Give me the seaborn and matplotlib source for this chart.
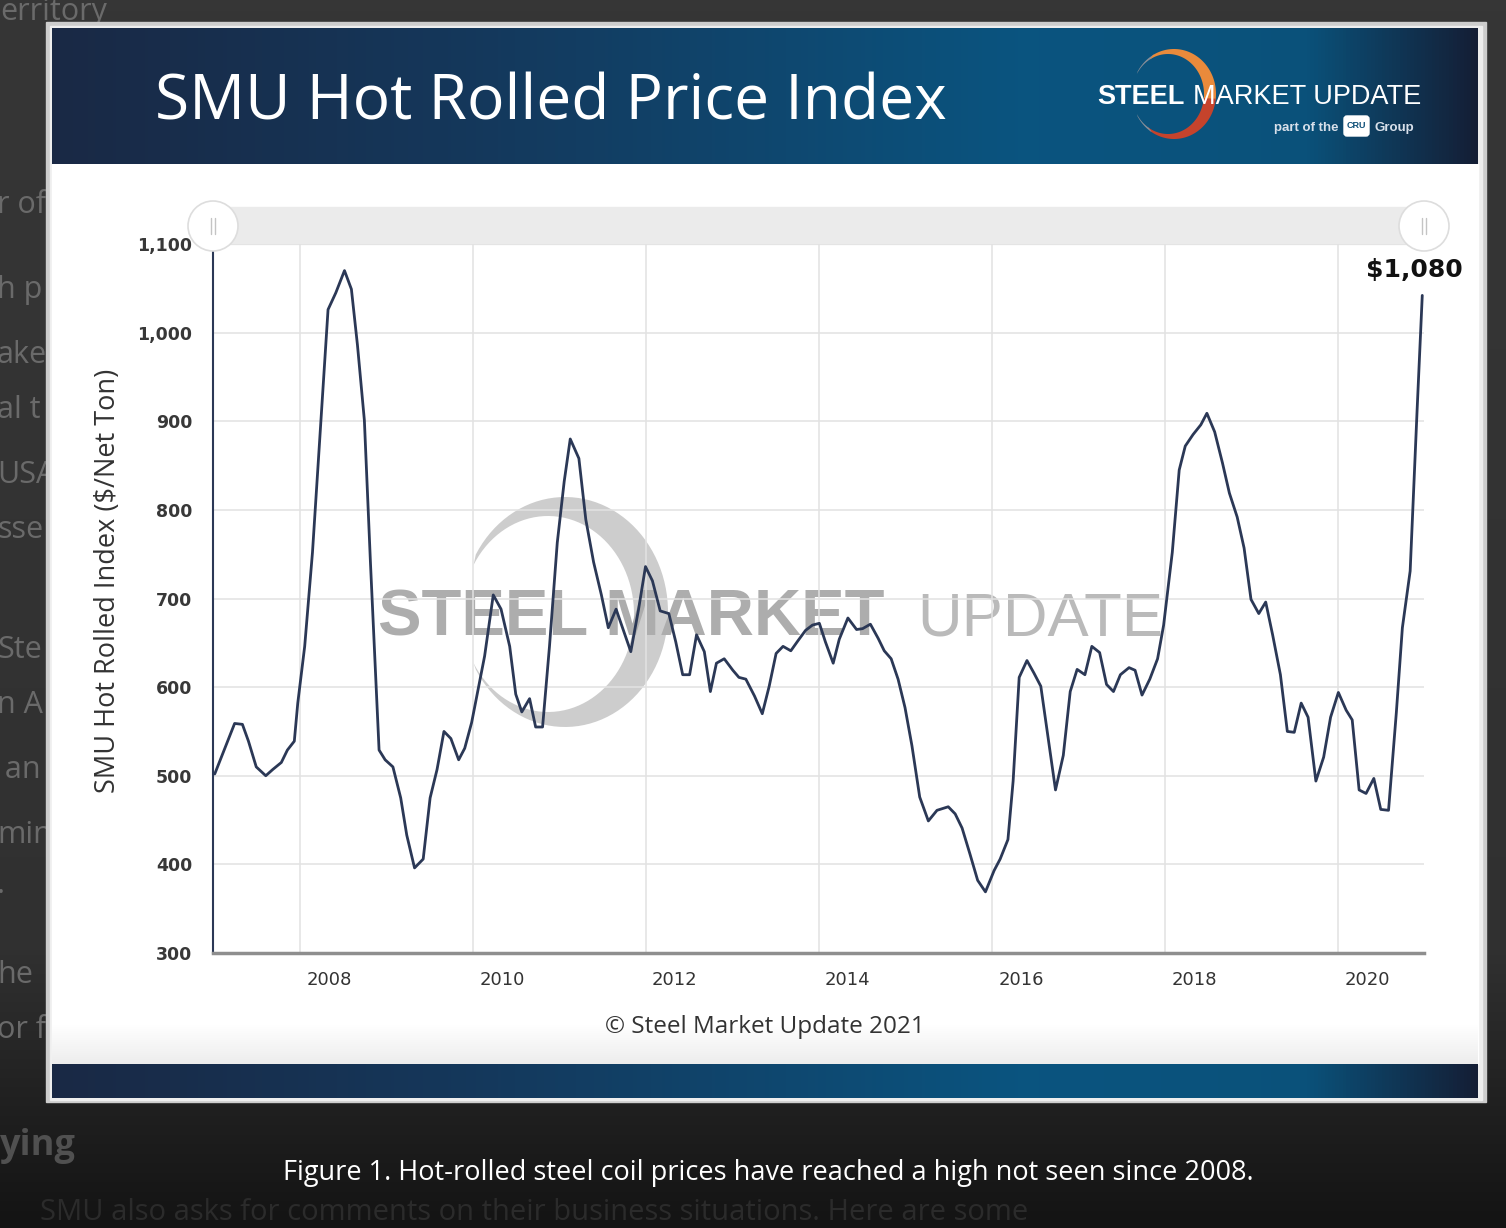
import numpy as np
import pandas as pd
import seaborn as sns
import matplotlib.pyplot as plt
from matplotlib.patches import Rectangle, Circle, Polygon, FancyBboxPatch

# SMU hot rolled index (decimal year, $/net ton)
years = [2007.02, 2007.25, 2007.34, 2007.41, 2007.50, 2007.61, 2007.69, 2007.79, 2007.86, 2007.94,
         2007.98, 2008.06, 2008.15, 2008.23, 2008.33, 2008.42, 2008.52, 2008.60, 2008.67, 2008.75,
         2008.82, 2008.92, 2008.99, 2009.08, 2009.17, 2009.24, 2009.33, 2009.43, 2009.51, 2009.59,
         2009.67, 2009.75, 2009.84, 2009.91, 2009.99, 2010.07, 2010.14, 2010.24, 2010.33, 2010.43,
         2010.50, 2010.57, 2010.66, 2010.73, 2010.81, 2010.89, 2010.98, 2011.06, 2011.13, 2011.23,
         2011.31, 2011.40, 2011.49, 2011.57, 2011.66, 2011.83, 2011.92, 2012.00, 2012.08, 2012.17,
         2012.27, 2012.35, 2012.43, 2012.51, 2012.59, 2012.68, 2012.75, 2012.82, 2012.91, 2013.01,
         2013.08, 2013.16, 2013.26, 2013.35, 2013.43, 2013.51, 2013.59, 2013.68, 2013.76, 2013.85,
         2013.93, 2014.01, 2014.08, 2014.17, 2014.24, 2014.34, 2014.44, 2014.51, 2014.60, 2014.69,
         2014.76, 2014.84, 2014.92, 2015.00, 2015.08, 2015.17, 2015.27, 2015.37, 2015.50, 2015.58,
         2015.66, 2015.75, 2015.84, 2015.93, 2016.03, 2016.10, 2016.19, 2016.25, 2016.32, 2016.41,
         2016.49, 2016.57, 2016.66, 2016.74, 2016.83, 2016.91, 2016.99, 2017.08, 2017.16, 2017.25,
         2017.33, 2017.41, 2017.49, 2017.59, 2017.66, 2017.74, 2017.83, 2017.92, 2017.99, 2018.09,
         2018.17, 2018.24, 2018.33, 2018.42, 2018.49, 2018.58, 2018.67, 2018.75, 2018.84, 2018.92,
         2019.00, 2019.09, 2019.17, 2019.25, 2019.34, 2019.42, 2019.50, 2019.58, 2019.66, 2019.75,
         2019.84, 2019.92, 2020.01, 2020.10, 2020.17, 2020.25, 2020.33, 2020.42, 2020.50, 2020.59,
         2020.68, 2020.75, 2020.84, 2020.92, 2020.98]
prices = [502, 559, 558, 539, 510, 500, 507, 515, 529, 539,
          582, 646, 752, 874, 1026, 1045, 1070, 1049, 986, 901,
          741, 529, 518, 510, 475, 433, 396, 406, 475, 507,
          550, 542, 518, 531, 560, 600, 635, 704, 688, 646,
          592, 572, 587, 555, 555, 646, 763, 832, 880, 858,
          789, 741, 704, 667, 688, 640, 688, 736, 720, 686,
          683, 651, 614, 614, 659, 640, 595, 627, 632, 619,
          611, 609, 590, 570, 601, 638, 646, 641, 652, 664,
          670, 672, 651, 627, 654, 678, 665, 666, 671, 655,
          641, 632, 609, 577, 534, 476, 449, 461, 465, 457,
          441, 412, 382, 369, 393, 406, 428, 494, 611, 630,
          616, 601, 539, 484, 523, 595, 620, 614, 646, 639,
          603, 595, 614, 622, 619, 591, 609, 632, 670, 752,
          845, 872, 885, 896, 909, 888, 853, 819, 792, 757,
          699, 683, 696, 659, 614, 550, 549, 582, 566, 494,
          521, 566, 594, 574, 563, 484, 480, 497, 462, 461,
          571, 667, 731, 912, 1042]
year_ticks = [2008, 2010, 2012, 2014, 2016, 2018, 2020]
price_ticks = [300, 400, 500, 600, 700, 800, 900, 1000, 1100]
last_label = '$1,080'

title = 'SMU Hot Rolled Price Index'
y_title = 'SMU Hot Rolled Index ($/Net Ton)'
credit = '\u00a9 Steel Market Update 2021'
caption = 'Figure 1. Hot-rolled steel coil prices have reached a high not seen since 2008.'

df = pd.DataFrame({'year': years, 'price': prices})

sns.set_style('white')
plt.rcParams['font.family'] = ['Open Sans', 'DejaVu Sans']

W, H = 1506, 1228
fig = plt.figure(figsize=(W / 100, H / 100), dpi=100)

# page / frame drawn in pixel coordinates
bg = fig.add_axes([0, 0, 1, 1])
bg.set_xlim(0, W)
bg.set_ylim(H, 0)
bg.axis('off')

yy = np.arange(H)
shade = np.interp(yy, [0, 950, 1228], [0.212, 0.19, 0.075])
bg.imshow(np.repeat(shade[:, None, None], 3, axis=2), extent=[0, W, H, 0], aspect='auto', zorder=0)

# bits of page text hidden behind the picture
frag_kw = dict(color='#6a6a6a', fontsize=22, va='center', ha='left', zorder=1)
for txt, y in [('erritory', 12), ('r of', 205), ('h p', 290), ('ake', 355), ('al t', 410),
               ('USA', 475), ('sse', 530), ('Ste', 650), ('n A', 705), (' an', 770),
               ('min', 835), ('.', 885), ('he', 975), ('or f', 1030)]:
    bg.text(0 if txt == 'erritory' else -3, y, txt, **frag_kw)
bg.text(0, 1146, 'ying', color='#505050', fontsize=26, fontweight='bold', va='center', zorder=1)
bg.text(40, 1213, 'SMU also asks for comments on their business situations. Here are some',
        color='#2b2b2b', fontsize=21, va='center', zorder=1)

# picture frame
bg.add_patch(Rectangle((46, 22), 1440, 1080, color='#cdcdcd', zorder=2))
bg.add_patch(Rectangle((50, 26), 1432, 1074, color='#eeeeee', zorder=2))
bg.add_patch(Rectangle((52, 164), 1426, 900, color='white', zorder=3))
fade = np.interp(np.arange(40), [0, 39], [1.0, 0.93])
bg.imshow(np.repeat(fade[:, None, None], 3, axis=2), extent=[52, 1478, 1064, 1024],
          aspect='auto', zorder=3)

band = np.array([[0.10, 0.16, 0.27], [0.08, 0.22, 0.36], [0.04, 0.33, 0.50],
                 [0.04, 0.32, 0.48], [0.08, 0.12, 0.21]])
bx = np.linspace(0, 1, 400)
stops = [0, 0.3, 0.68, 0.88, 1]
grad = np.stack([np.interp(bx, stops, band[:, c]) for c in range(3)], axis=-1)[None, :, :]
bg.imshow(grad, extent=[52, 1478, 164, 28], aspect='auto', zorder=4)
bg.imshow(grad, extent=[52, 1478, 1098, 1064], aspect='auto', zorder=4)

bg.text(155, 120, title, color='white', fontsize=44.8, va='baseline', ha='left', zorder=5)


def crescent(cx, cy, a, b, icx, icy, ia, ib, t0, t1, n=90):
    t = np.radians(np.linspace(t0, t1, n))
    outer = np.c_[cx + a * np.cos(t), cy - b * np.sin(t)]
    inner = np.c_[icx + ia * np.cos(t[::-1]), icy - ib * np.sin(t[::-1])]
    return np.vstack([outer, inner])


# header logo
logo = (1174, 94, 42, 45, 1168, 94, 36, 40)
for t0, t1, col in [(150, 118, '#8a8f98'), (120, -8, '#e98a3b'), (-6, -124, '#c5432c'),
                    (-122, -150, '#8a8f98')]:
    bg.add_patch(Polygon(crescent(*logo, t0, t1), closed=True, color=col, lw=0, zorder=5))
bg.text(1097, 104, 'STEEL', color='white', fontsize=19.5, fontweight='bold',
        family='Liberation Sans', va='baseline', zorder=6)
bg.text(1193, 104, 'MARKET UPDATE', color='white', fontsize=19.5,
        family='Liberation Sans', va='baseline', zorder=6)
bg.text(1339, 131, 'part of the', color='#d8e0ea', fontsize=9.5, fontweight='bold',
        family='Liberation Sans', ha='right', va='baseline', zorder=6)
bg.add_patch(FancyBboxPatch((1344, 116), 25, 20, boxstyle='round,pad=0,rounding_size=3',
                            color='white', zorder=6))
bg.text(1356.5, 126, 'CRU', color='#0d4f78', fontsize=6.5, fontweight='bold',
        family='Liberation Sans', ha='center', va='center', zorder=7)
bg.text(1375, 131, 'Group', color='#d8e0ea', fontsize=9.5, fontweight='bold',
        family='Liberation Sans', va='baseline', zorder=6)

# watermark behind the plot
bg.add_patch(Polygon(crescent(565, 612, 103, 115, 548, 614, 86, 98, 150, -150),
                     closed=True, color='#cdcdcd', lw=0, zorder=5))
bg.text(378, 636, 'STEEL MARKET', color='#adadad', fontsize=47, fontweight='bold',
        family='Liberation Sans', va='baseline', zorder=6)
bg.text(917, 636, 'UPDATE', color='#bababa', fontsize=44.5,
        family='Liberation Sans', va='baseline', zorder=6)

# navigator strip
bg.add_patch(Rectangle((213, 207), 1211, 37, color='#ebebeb', zorder=6))

bg.text(765, 1027, credit, color='#333333', fontsize=17.5, ha='center', va='center', zorder=6)
bg.text(768, 1173, caption, color='white', fontsize=19.5, ha='center', va='center', zorder=6)

# chart
ax = fig.add_axes([213 / W, 1 - 953 / H, 1211 / W, 709 / H])
ax.patch.set_alpha(0)
sns.lineplot(data=df, x='year', y='price', ax=ax, color='#2b3856', linewidth=2.0, zorder=3)
ax.set_xlim(2007.0, 2021.0)
ax.set_ylim(300, 1100)
ax.set_axisbelow(True)

ax.set_yticks(price_ticks, labels=[f'{v:,}' for v in price_ticks])
ax.set_xticks(year_ticks, labels=[''] * len(year_ticks))
ax.set_xticks([y + 0.34 for y in year_ticks], labels=[str(y) for y in year_ticks], minor=True)
ax.grid(True, which='major', color='#e2e2e2', lw=1.1)

ax.tick_params(axis='y', which='major', direction='out', length=7, width=1.3, color='#2b3856',
               pad=8, labelsize=12.5, labelcolor='#383838')
ax.tick_params(axis='x', which='major', direction='out', length=6, width=1.2, color='#8a8a8a')
ax.tick_params(axis='x', which='minor', length=0, pad=13, labelsize=13, labelcolor='#333333')
for lbl in ax.get_yticklabels():
    lbl.set_family('DejaVu Sans')
    lbl.set_fontweight('bold')
for lbl in ax.get_xticklabels(minor=True):
    lbl.set_family('DejaVu Sans')

for side in ['top', 'right']:
    ax.spines[side].set_visible(False)
ax.spines['left'].set_color('#2b3856')
ax.spines['left'].set_linewidth(1.5)
ax.spines['bottom'].set_color('#8e8e8e')
ax.spines['bottom'].set_linewidth(2.5)

ax.set_xlabel('')
ax.set_ylabel(y_title, fontsize=19.5, color='#333333')
ax.yaxis.set_label_coords(-0.087, 0.525)
ax.yaxis.label.set_verticalalignment('center')

ax.annotate(last_label, xy=(years[-1], prices[-1]), xytext=(-6, 18), textcoords='offset points',
            ha='center', va='center', fontsize=18, fontweight='bold', family='DejaVu Sans',
            color='#111111')

# navigator handles sit over the axis
ov = fig.add_axes([0, 0, 1, 1], zorder=5)
ov.set_xlim(0, W)
ov.set_ylim(H, 0)
ov.axis('off')
ov.patch.set_alpha(0)
for hx in [213, 1424]:
    ov.add_patch(Circle((hx, 226), 25, facecolor='white', edgecolor='#dddddd', lw=1.2))
    for dx in [-2, 2]:
        ov.plot([hx + dx, hx + dx], [218, 234], color='#c4c4c4', lw=1)

fig.savefig('out.png', dpi=100)
